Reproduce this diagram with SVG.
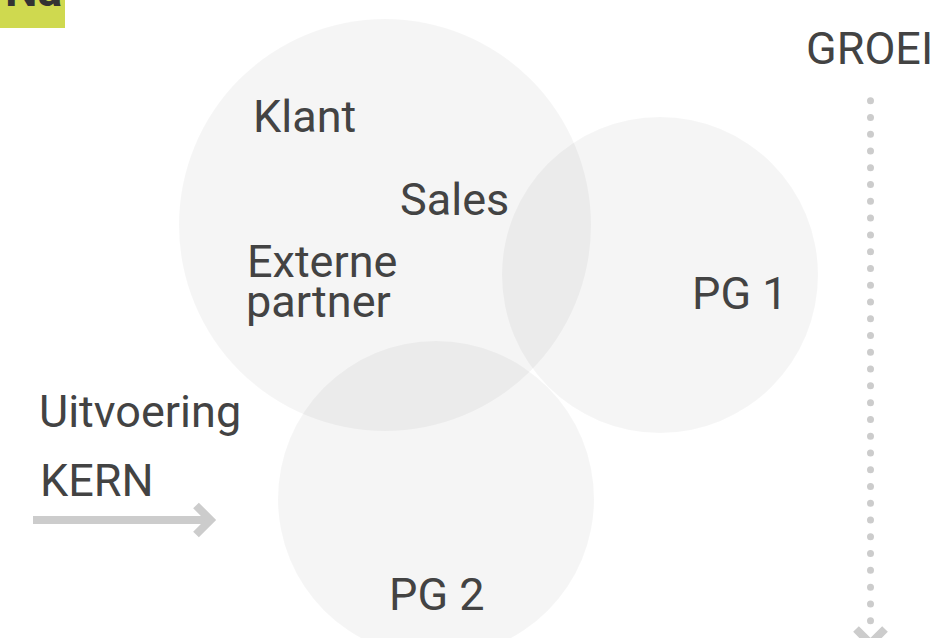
<svg xmlns="http://www.w3.org/2000/svg" width="935" height="638" viewBox="0 0 935 638">
  <style>
    .lbl { font-family: Roboto, "Liberation Sans", sans-serif; font-size: 45px; fill: #434343; }
    .circ { fill: #000000; fill-opacity: 0.039; }
    .conn { fill: none; stroke: #cccccc; stroke-width: 8; }
  </style>
  <rect width="935" height="638" fill="#ffffff"/>
  <g id="title">
    <rect x="0" y="0" width="65" height="28" fill="#cfd94f"/>
    <text x="62" y="6" text-anchor="end" style="font-family: Roboto, 'Liberation Sans', sans-serif; font-size: 46px; font-weight: bold; fill: #333333;">Na</text>
  </g>
  <g id="circle-klant">
    <circle class="circ" cx="385" cy="225" r="206"/>
    <text class="lbl" x="253" y="132">Klant</text>
    <text class="lbl" x="400" y="215">Sales</text>
    <text class="lbl" x="247" y="277">Externe</text>
    <text class="lbl" x="246" y="317">partner</text>
  </g>
  <g id="circle-pg1">
    <circle class="circ" cx="660" cy="275" r="158"/>
    <text class="lbl" x="692" y="309">PG 1</text>
  </g>
  <g id="circle-pg2">
    <circle class="circ" cx="436" cy="499" r="158"/>
    <text class="lbl" x="389" y="610">PG 2</text>
  </g>
  <g id="label-uitvoering">
    <text class="lbl" x="39" y="427">Uitvoering</text>
  </g>
  <g id="label-kern">
    <text class="lbl" x="40" y="496">KERN</text>
  </g>
  <g id="label-groei">
    <text class="lbl" x="806" y="64">GROEI</text>
  </g>
  <g id="connectors">
    <line class="conn" x1="33" y1="520" x2="210" y2="520"/>
    <polyline class="conn" points="196,505.5 210.5,520 196,534.5"/>
    <line x1="870.5" y1="100.7" x2="870.5" y2="620.7" stroke="#cccccc" stroke-width="7" stroke-linecap="round" stroke-dasharray="0 16.774"/>
    <polyline class="conn" points="856,629 870.5,643.5 885,629"/>
  </g>
</svg>
